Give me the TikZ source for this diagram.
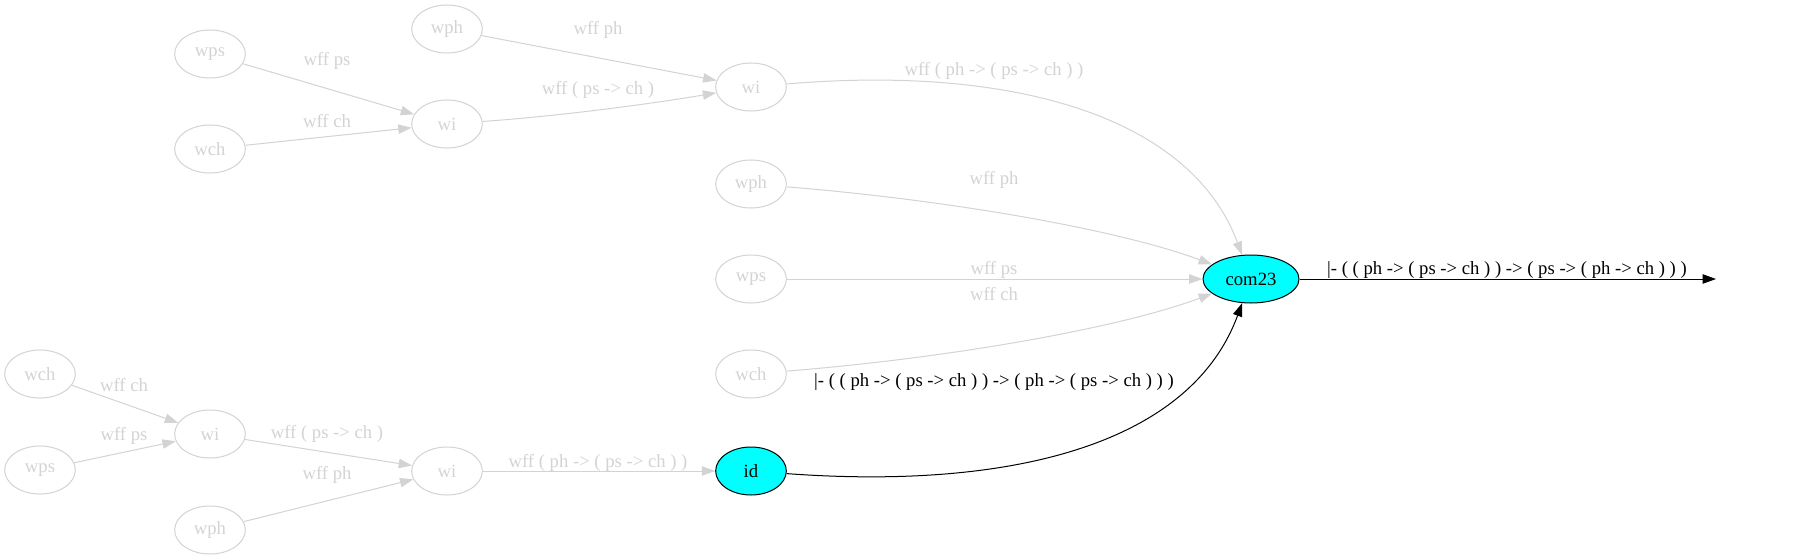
\documentclass[tikz,border=0pt]{standalone}
\usepackage{fontspec}
\setmainfont{Liberation Serif}
\usetikzlibrary{shapes.geometric,arrows.meta}
\definecolor{lgray}{RGB}{211,211,211}
\definecolor{cyanfill}{RGB}{0,255,255}
\tikzset{
  gnode/.style={ellipse,draw=lgray,line width=0.75pt,text=lgray,minimum width=53pt,minimum height=36pt,inner sep=0pt,font=\fontsize{14pt}{16pt}\selectfont},
  cnode/.style={ellipse,draw=black,line width=0.75pt,fill=cyanfill,text=black,minimum width=53pt,minimum height=36pt,inner sep=0pt,font=\fontsize{14pt}{16pt}\selectfont},
  gedge/.style={draw=lgray,line width=0.75pt,-{Triangle[length=10pt,width=7pt,fill=lgray]}},
  bedge/.style={draw=black,line width=0.75pt,-{Triangle[length=10pt,width=7pt]}},
  glabel/.style={text=lgray,inner sep=0pt,font=\fontsize{14pt}{16pt}\selectfont},
  blabel/.style={text=black,inner sep=0pt,font=\fontsize{14pt}{16pt}\selectfont}
}
\begin{document}
\begin{tikzpicture}[x=0.75pt,y=-0.75pt]
\useasboundingbox (0,0) rectangle (1800,560);
% top group
\node[gnode] (A1) at (210,54) {wps};
\node[gnode] (A2) at (210,149) {wch};
\node[gnode] (A3) at (447,29) {wph};
\node[gnode] (A4) at (447,124) {wi};
\node[gnode] (A5) at (751,87) {wi};
\node[gnode] (B1) at (751,184) {wph};
\node[gnode] (B2) at (751,279) {wps};
\node[gnode] (B3) at (751,374) {wch};
\node[cnode,minimum width=72pt] (C) at (1251,279) {com23};
\coordinate (OUT) at (1716,279);
% bottom group
\node[gnode] (D1) at (40,374) {wch};
\node[gnode] (D2) at (40,470) {wps};
\node[gnode] (D3) at (210,434) {wi};
\node[gnode] (D4) at (210,530) {wph};
\node[gnode] (D5) at (447,471) {wi};
\node[cnode] (D6) at (751,471) {id};
% edges top
\draw[gedge] (A1) -- (A4);
\draw[gedge] (A2) -- (A4);
\draw[gedge] (A3) -- (A5);
\draw[gedge] (A4) .. controls (560,116) and (650,104) .. (A5);
\draw[gedge] (A5) .. controls (1010,65) and (1190,115) .. (C);
\draw[gedge] (B1) .. controls (950,200) and (1120,230) .. (C);
\draw[gedge] (B2) -- (C);
\draw[gedge] (B3) .. controls (950,358) and (1120,328) .. (C);
\draw[bedge] (D6) .. controls (1010,490) and (1190,445) .. (C);
\draw[bedge] (C) -- (OUT);
% edges bottom
\draw[gedge] (D1) -- (D3);
\draw[gedge] (D2) -- (D3);
\draw[gedge] (D3) -- (D5);
\draw[gedge] (D4) -- (D5);
\draw[gedge] (D5) -- (D6);
% labels
\node[glabel] (L1) at (327,61) {wff ps};
\node[glabel] (L2) at (327,121) {wff ch};
\node[glabel] (L3) at (598,30) {wff ph};
\node[glabel] (L4) at (598,90) {wff ( ps -> ch )};
\node[glabel] (L5) at (994,71) {wff ( ph -> ( ps -> ch ) )};
\node[glabel] (L6) at (994,180) {wff ph};
\node[glabel] (L7) at (994,270) {wff ps};
\node[glabel] (L8) at (994,294) {wff ch};
\node[blabel] (L9) at (994,382) {|- ( ( ph -> ( ps -> ch ) ) -> ( ph -> ( ps -> ch ) ) )};
\node[blabel] (L10) at (1507,270) {|- ( ( ph -> ( ps -> ch ) ) -> ( ps -> ( ph -> ch ) ) )};
\node[glabel] (L11) at (124,385) {wff ch};
\node[glabel] (L12) at (124,436) {wff ps};
\node[glabel] (L13) at (327,434) {wff ( ps -> ch )};
\node[glabel] (L14) at (327,475) {wff ph};
\node[glabel] (L15) at (598,463) {wff ( ph -> ( ps -> ch ) )};
\end{tikzpicture}
\end{document}
